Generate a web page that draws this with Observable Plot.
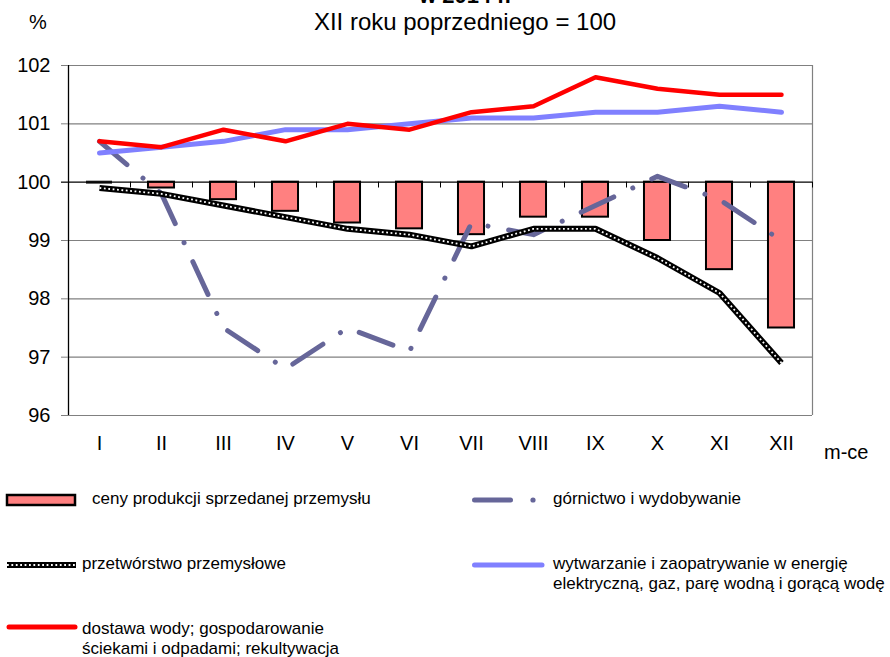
<!DOCTYPE html>
<html>
<head>
<meta charset="utf-8">
<script src="https://cdn.jsdelivr.net/npm/d3@7"></script>
<script src="https://cdn.jsdelivr.net/npm/@observablehq/plot@0.6"></script>
<style>
  html, body { margin: 0; padding: 0; background: #fff; }
  body { font-family: "Liberation Sans", Arial, sans-serif; color: #000; }
  #wrap { position: relative; width: 890px; height: 657px; overflow: hidden; }
  #chart { position: absolute; left: 0; top: 0; }
  .abs { position: absolute; white-space: nowrap; line-height: 1; }
  .leg { position: absolute; font-size: 17px; line-height: 20px; white-space: nowrap; }
  .sw { position: absolute; overflow: visible; }
</style>
</head>
<body>
<div id="wrap">
  <div id="chart"></div>
  <div class="abs" style="left:0;width:930px;text-align:center;top:-15px;font-size:22px;font-weight:bold;">w 2014 r.</div>
  <div class="abs" style="left:0;width:930px;text-align:center;top:10px;font-size:24px;">XII roku poprzedniego = 100</div>
  <div class="abs" style="left:29px;top:12px;font-size:20px;">%</div>
  <div class="abs" style="left:824px;top:442px;font-size:20px;">m-ce</div>
  <div id="legend"></div>
</div>
<script>
// ---- data ----
const months = ["I","II","III","IV","V","VI","VII","VIII","IX","X","XI","XII"];
const ceny         = [100.0, 99.9, 99.7, 99.5, 99.3, 99.2, 99.1, 99.4, 99.4, 99.0, 98.5, 97.5];
const gornictwo    = [100.7, 99.8, 97.5, 96.8, 97.5, 97.1, 99.3, 99.1, 99.6, 100.1, 99.7, 99.0];
const przetworstwo = [99.9, 99.8, 99.6, 99.4, 99.2, 99.1, 98.9, 99.2, 99.2, 98.7, 98.1, 96.9];
const energia      = [100.5, 100.6, 100.7, 100.9, 100.9, 101.0, 101.1, 101.1, 101.2, 101.2, 101.3, 101.2];
const woda         = [100.7, 100.6, 100.9, 100.7, 101.0, 100.9, 101.2, 101.3, 101.8, 101.6, 101.5, 101.5];
const yTicks = [96, 97, 98, 99, 100, 101, 102];
const legendLabels = [
  "ceny produkcji sprzedanej przemysłu",
  "górnictwo i wydobywanie",
  "przetwórstwo przemysłowe",
  "wytwarzanie i zaopatrywanie w energię<br>elektryczną, gaz, parę wodną i gorącą wodę",
  "dostawa wody; gospodarowanie<br>ściekami i odpadami; rekultywacja"
];

// ---- table ----
const rows = months.map((m, k) => ({
  m, i: k + 1,
  ceny: ceny[k], gornictwo: gornictwo[k], przetworstwo: przetworstwo[k],
  energia: energia[k], woda: woda[k]
}));
const bounds = rows.map(d => d.i - 0.5).concat([rows.length + 0.5]);
const half = 0.21;

const C = {
  bar: "#FF8080", gor: "#666699", en: "#8080FF", woda: "#FF0000", grid: "#808080"
};

const chart = Plot.plot({
  width: 890,
  height: 470,
  marginLeft: 68,
  marginRight: 78,
  marginTop: 65,
  marginBottom: 55,
  style: { fontFamily: "'Liberation Sans', Arial, sans-serif", background: "transparent", overflow: "visible" },
  x: { type: "linear", domain: [0.5, months.length + 0.5] },
  y: { domain: [96, 102] },
  marks: [
    Plot.ruleY(yTicks.filter(v => v !== 100), { stroke: C.grid, strokeWidth: 1.2 }),
    Plot.ruleX([months.length + 0.5], { stroke: C.grid, strokeWidth: 1.2 }),
    Plot.rect(rows.filter(d => d.ceny !== 100), {
      x1: d => d.i - half, x2: d => d.i + half, y1: 100, y2: "ceny",
      fill: C.bar, stroke: "black", strokeWidth: 2
    }),
    Plot.ruleY(rows.filter(d => d.ceny === 100), {
      x1: d => d.i - half, x2: d => d.i + half, y: "ceny", stroke: "#222", strokeWidth: 3
    }),
    Plot.ruleY([100], { stroke: "black", strokeWidth: 1.3 }),
    Plot.ruleX(bounds, { x: d => d, y1: 100, y2: 99.9, stroke: "black", strokeWidth: 1 }),
    Plot.ruleX([0.5], { stroke: "black", strokeWidth: 1.3 }),
    Plot.line(rows, {
      x: "i", y: "gornictwo", stroke: C.gor, strokeWidth: 5,
      strokeDasharray: "36,21,0.01,21", strokeLinecap: "round"
    }),
    Plot.line(rows, { x: "i", y: "przetworstwo", stroke: "black", strokeWidth: 6, strokeLinecap: "butt", strokeLinejoin: "miter" }),
    Plot.line(rows, { x: "i", y: "przetworstwo", stroke: "white", strokeWidth: 1.8, strokeDasharray: "1.8,2.6", strokeLinecap: "butt" }),
    Plot.line(rows, { x: "i", y: "energia", stroke: C.en, strokeWidth: 5 }),
    Plot.line(rows, { x: "i", y: "woda", stroke: C.woda, strokeWidth: 4.5 }),
    Plot.axisY({ ticks: yTicks, tickFormat: d => String(d), tickSize: 7, tickPadding: 11, fontSize: 20, stroke: C.grid, label: null }),
    Plot.axisY({ ticks: [100], tickSize: 7, tickFormat: () => "", stroke: "black", label: null }),
    Plot.axisX({ ticks: rows.map(d => d.i), tickFormat: i => months[i - 1], tickSize: 0, tickPadding: 20, fontSize: 20, label: null })
  ]
});
document.getElementById("chart").appendChild(chart);

// ---- legend ----
const legend = document.getElementById("legend");
const swatches = [
  { left: 4, top: 490, w: 76, h: 20, svg: `<rect x="3" y="5" width="68" height="10" fill="${C.bar}" stroke="black" stroke-width="2.5"/>`, tx: 92, ty: 489 },
  { left: 466, top: 490, w: 80, h: 20, svg: `<line x1="8.5" y1="10" x2="44.5" y2="10" stroke="${C.gor}" stroke-width="5" stroke-linecap="round"/><circle cx="67" cy="10" r="2.6" fill="${C.gor}"/>`, tx: 553, ty: 488.5 },
  { left: 4, top: 555, w: 76, h: 20, svg: `<line x1="3" y1="10" x2="72" y2="10" stroke="black" stroke-width="6"/><line x1="3" y1="10" x2="72" y2="10" stroke="white" stroke-width="1.8" stroke-dasharray="1.8,2.6"/>`, tx: 82, ty: 553.5 },
  { left: 466, top: 555, w: 80, h: 20, svg: `<line x1="8.5" y1="10" x2="76" y2="10" stroke="${C.en}" stroke-width="5" stroke-linecap="round"/>`, tx: 553, ty: 553.5 },
  { left: 4, top: 617, w: 76, h: 20, svg: `<line x1="5" y1="10" x2="71" y2="10" stroke="${C.woda}" stroke-width="5" stroke-linecap="round"/>`, tx: 82, ty: 618.5 }
];
swatches.forEach((s, k) => {
  legend.insertAdjacentHTML("beforeend",
    `<svg class="sw" style="left:${s.left}px;top:${s.top}px" width="${s.w}" height="${s.h}">${s.svg}</svg>` +
    `<div class="leg" style="left:${s.tx}px;top:${s.ty}px">${legendLabels[k]}</div>`);
});
</script>
</body>
</html>
